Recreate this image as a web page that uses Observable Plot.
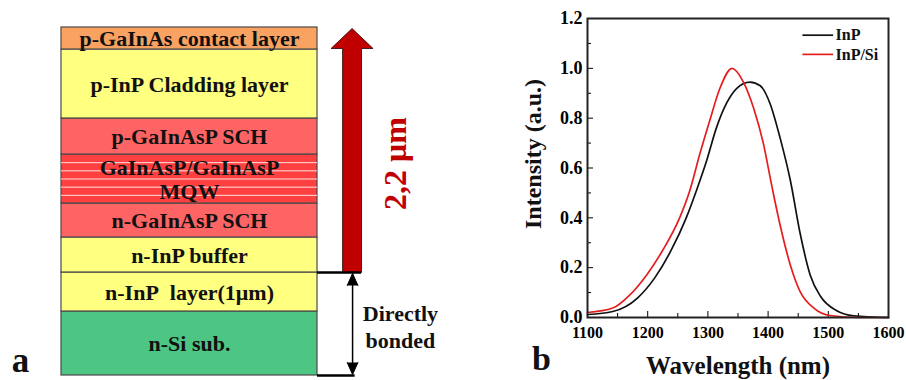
<!DOCTYPE html>
<html>
<head>
<meta charset="utf-8">
<script src="https://cdn.jsdelivr.net/npm/d3@7"></script>
<script src="https://cdn.jsdelivr.net/npm/@observablehq/plot@0.6"></script>
<style>
  html, body { margin: 0; padding: 0; background: #fff; }
  #wrap { position: relative; width: 906px; height: 380px; overflow: hidden; }
  #wrap svg { position: absolute; top: 0; }
  #wrap svg, #wrap svg text { font-family: "Liberation Serif", "Times New Roman", serif !important; font-weight: bold; }
</style>
</head>
<body>
<div id="wrap"></div>
<script>
// ---------- Panel a: layer stack (bottom to top) ----------
const layerNames = ["n-Si sub.", "n-InP\u00a0 layer(1\u03bcm)", "n-InP buffer", "n-GaInAsP SCH",
  "GaInAsP/GaInAsP\nMQW", "p-GaInAsP SCH", "p-InP Cladding layer", "p-GaInAs contact layer"];
const layerThickness = [64, 39, 35, 34, 49, 36, 69, 22]; // relative drawing thickness
const layerColors = ["#4dc683", "#ffff80", "#ffff80", "#ff6464", "#ff4040", "#ff6464", "#ffff80", "#f9a262"];
const mqwLineCount = 5;
const bondedLayerCount = 2;     // layers below the bonding interface
const thicknessLabel = "2,2 \u03bcm";
const bondLabel = "Directly\nbonded";

// ---------- Panel b: PL spectra ----------
const seriesNames = ["InP", "InP/Si"];
const seriesColors = ["#111111", "#e41e1e"];
const inpWavelength = [1100, 1142, 1183, 1212, 1239, 1264, 1281, 1298, 1314, 1331, 1348, 1370, 1387, 1403, 1420, 1437, 1453, 1470, 1487, 1514, 1542, 1600];
const inpIntensity  = [0.012, 0.024, 0.078, 0.16, 0.27, 0.40, 0.51, 0.63, 0.76, 0.86, 0.92, 0.945, 0.93, 0.86, 0.72, 0.55, 0.34, 0.17, 0.085, 0.027, 0.007, 0.0];
const siWavelength  = [1100, 1142, 1170, 1198, 1225, 1253, 1270, 1287, 1303, 1320, 1340, 1359, 1376, 1392, 1406, 1420, 1437, 1453, 1476, 1503, 1550, 1600];
const siIntensity   = [0.02, 0.038, 0.09, 0.17, 0.27, 0.40, 0.51, 0.66, 0.79, 0.92, 1.0, 0.945, 0.84, 0.70, 0.53, 0.37, 0.21, 0.105, 0.038, 0.008, 0.0, 0.0];
const xTicks = [1100, 1200, 1300, 1400, 1500, 1600];
const xMinorTicks = [1150, 1250, 1350, 1450, 1550];
const yTicks = [0, 0.2, 0.4, 0.6, 0.8, 1.0, 1.2];
const yMinorTicks = [0.1, 0.3, 0.5, 0.7, 0.9, 1.1];
const xLabel = "Wavelength (nm)";
const yLabel = "Intensity (a.u.)";

const FONT = "'Liberation Serif', 'Times New Roman', serif";

// ---- build panel a ----
let acc = 0;
const layers = layerNames.map((name, i) => {
  const d = {name, y1: acc, y2: acc + layerThickness[i], color: layerColors[i]};
  acc += layerThickness[i];
  return d;
});
const total = acc;
const mqw = layers[4];
const mqwLines = d3.range(1, mqwLineCount + 1).map(k => mqw.y2 - k * (mqw.y2 - mqw.y1) / (mqwLineCount + 1));
const bondY = layers[bondedLayerCount - 1].y2;

const cx = 1.135, shaftHW = 0.037, headHW = 0.082, headLen = 20;
const arrowPoly = [
  {x: cx - shaftHW, y: bondY}, {x: cx - shaftHW, y: total - headLen - 1}, {x: cx - headHW, y: total - headLen - 1},
  {x: cx, y: total - 1}, {x: cx + headHW, y: total - headLen - 1}, {x: cx + shaftHW, y: total - headLen - 1},
  {x: cx + shaftHW, y: bondY}, {x: cx - shaftHW, y: bondY}
];
const dax = 1.137, triHW = 0.021, triLen = 12;
const tris = [
  {k: "t", x: dax - triHW, y: bondY - 1 - triLen}, {k: "t", x: dax, y: bondY - 1}, {k: "t", x: dax + triHW, y: bondY - 1 - triLen},
  {k: "b", x: dax - triHW, y: 1 + triLen}, {k: "b", x: dax, y: 1}, {k: "b", x: dax + triHW, y: 1 + triLen}
];

const left = Plot.plot({
  width: 460, height: 380,
  marginLeft: 61, marginRight: 143, marginTop: 27, marginBottom: 5,
  x: {domain: [0, 1], axis: null},
  y: {domain: [0, total], axis: null},
  color: {type: "identity"},
  style: {fontFamily: FONT, fontWeight: "bold", background: "transparent"},
  marks: [
    Plot.rect(layers, {x1: 0, x2: 1, y1: "y1", y2: "y2", fill: "color", stroke: "#4a4a4a", strokeWidth: 1.2}),
    Plot.ruleY(mqwLines, {x1: 0, x2: 1, stroke: "#ffffff", strokeOpacity: 0.85, strokeWidth: 1}),
    Plot.text(layers, {x: 0.5, y: d => (d.y1 + d.y2) / 2, text: "name", fontSize: 22, lineHeight: 1.1, fill: "#111", fontFamily: FONT, fontWeight: "bold"}),
    Plot.line(arrowPoly, {x: "x", y: "y", fill: "#c00000", stroke: "#2a0000", strokeWidth: 0.8}),
    Plot.ruleY([bondY], {x1: 1, x2: cx + shaftHW, stroke: "#000", strokeWidth: 2.5}),
    Plot.ruleY([0], {x1: 1, x2: dax + 0.01, stroke: "#000", strokeWidth: 2.5}),
    Plot.ruleX([dax], {y1: 2, y2: bondY - 2, stroke: "#000", strokeWidth: 1.5}),
    Plot.line(tris, {x: "x", y: "y", z: "k", fill: "#000", stroke: "#000", strokeWidth: 1}),
    Plot.text([thicknessLabel], {x: 1.305, y: 212, rotate: -90, fontSize: 32, fill: "#c00000", fontFamily: FONT, fontWeight: "bold"}),
    Plot.text([bondLabel], {x: 1.324, y: 49.5, fontSize: 22, lineHeight: 1.23, fill: "#111", fontFamily: FONT, fontWeight: "bold"}),
    Plot.text(["a"], {x: -0.16, y: 15, fontSize: 35, fill: "#111", fontFamily: FONT, fontWeight: "bold"})
  ]
});
left.style.left = "0px";

// ---- build panel b ----
const inp = inpWavelength.map((w, i) => ({w, v: inpIntensity[i]}));
const insi = siWavelength.map((w, i) => ({w, v: siIntensity[i]}));
const legend = seriesNames.map((name, i) => ({name, color: seriesColors[i], y: 1.133 - i * 0.077}));

const right = Plot.plot({
  width: 386, height: 380,
  marginLeft: 67, marginRight: 18, marginTop: 18, marginBottom: 63,
  x: {domain: [1100, 1600]},
  y: {domain: [0, 1.2]},
  style: {fontFamily: FONT, fontWeight: "bold", fontSize: "17px", color: "#000", background: "transparent"},
  marks: [
    Plot.axisX({ticks: xTicks, tickSize: -6, tickPadding: 15, tickFormat: d => String(d), label: null, fontSize: 16, fontFamily: FONT, fontWeight: "bold"}),
    Plot.axisX({ticks: xMinorTicks, tickSize: -4, tickFormat: () => "", label: null}),
    Plot.axisY({ticks: yTicks, tickSize: -6, tickPadding: 11, tickFormat: d => d.toFixed(1), label: null, fontSize: 18, fontFamily: FONT, fontWeight: "bold"}),
    Plot.axisY({ticks: yMinorTicks, tickSize: -4, tickFormat: () => "", label: null}),
    Plot.line(inp, {x: "w", y: "v", stroke: seriesColors[0], strokeWidth: 1.7, curve: "monotone-x"}),
    Plot.line(insi, {x: "w", y: "v", stroke: seriesColors[1], strokeWidth: 1.7, curve: "monotone-x"}),
    Plot.frame({stroke: "#222", strokeWidth: 2}),
    Plot.link(legend, {x1: 1457, x2: 1508, y1: "y", y2: "y", stroke: "color", strokeWidth: 1.7}),
    Plot.text(legend, {x: 1512, y: "y", text: "name", textAnchor: "start", fontSize: 16, fill: "#111", fontFamily: FONT, fontWeight: "bold"}),
    Plot.text([xLabel], {frameAnchor: "bottom", textAnchor: "middle", lineAnchor: "middle", dy: 48, fontSize: 25, fill: "#111", fontFamily: FONT, fontWeight: "bold"}),
    Plot.text([yLabel], {frameAnchor: "left", textAnchor: "middle", lineAnchor: "middle", dx: -54, dy: -14, rotate: -90, fontSize: 24, fill: "#111", fontFamily: FONT, fontWeight: "bold"}),
    Plot.text(["b"], {frameAnchor: "bottom-left", textAnchor: "middle", lineAnchor: "middle", dx: -46, dy: 42, fontSize: 34, fill: "#111", fontFamily: FONT, fontWeight: "bold"})
  ]
});
right.style.left = "520px";

const wrap = document.getElementById("wrap");
wrap.appendChild(left);
wrap.appendChild(right);
</script>
</body>
</html>
